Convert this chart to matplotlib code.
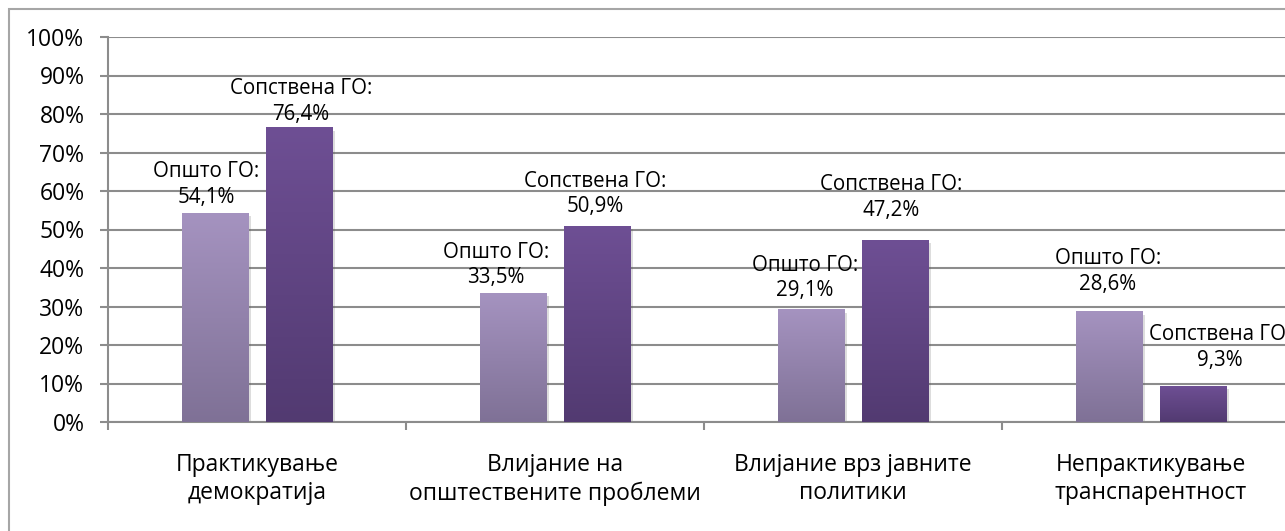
import numpy as np
import matplotlib
matplotlib.use("Agg")
import matplotlib.pyplot as plt
from matplotlib.colors import LinearSegmentedColormap
from matplotlib.patches import Rectangle
import matplotlib.patheffects as pe

plt.rcParams['font.family'] = ['Open Sans', 'DejaVu Sans']

categories = ['Практикување\nдемократија', 'Влијание на\nопштествените проблеми',
              'Влијание врз јавните\nполитики', 'Непрактикување\nтранспарентност']
general_go = [54.1, 33.5, 29.1, 28.6]
own_go = [76.4, 50.9, 47.2, 9.3]
general_name = 'Општо ГО:'
own_name = 'Сопствена ГО:'

# label nudges in pixels (dx, dy of the lower line above bar top)
general_nudge = [(-9, 14), (-17, 13), (-6, 17), (-1, 25)]
own_nudge = [(2, 11), (-2, 17), (-4, 28), (27, 24)]

W, H = 1285, 531
fig = plt.figure(figsize=(W / 100, H / 100), dpi=100)
ax = fig.add_axes([108 / W, (H - 422) / H, (1300 - 108) / W, 385 / H])

# outer chart border
fig.patches.append(Rectangle((9 / W, -0.1), 1.2, (H - 9) / H + 0.1, transform=fig.transFigure,
                             fill=False, edgecolor='#a6a6a6', lw=1.5, zorder=0))

x = np.arange(len(categories))
bw = 0.2215
off = 0.141

light = LinearSegmentedColormap.from_list('light', ['#7f7196', '#a593c0'])
dark = LinearSegmentedColormap.from_list('dark', ['#523a71', '#6e4f94'])
grad = np.linspace(0, 1, 256).reshape(-1, 1)

shadow = [pe.SimplePatchShadow(offset=(2.5, -2), shadow_rgbFace='#555555', alpha=0.2), pe.Normal()]
b1 = ax.bar(x - off, np.array(general_go) / 100, bw, color='#9383ab', zorder=2, path_effects=shadow)
b2 = ax.bar(x + off, np.array(own_go) / 100, bw, color='#5f4583', zorder=2, path_effects=shadow)

for bars, cmap in [(b1, light), (b2, dark)]:
    for r in bars:
        x0, h, w = r.get_x(), r.get_height(), r.get_width()
        ax.imshow(grad, extent=[x0, x0 + w, 0, h], origin='lower', aspect='auto',
                  cmap=cmap, zorder=3, interpolation='bicubic')

ax.set_xlim(-0.5, 3.5)
ax.set_ylim(0, 1)

# data labels
def put_labels(bars, vals, name, nudges):
    for r, v, (dx, dy) in zip(bars, vals, nudges):
        txt = name + '\n' + ('%.1f%%' % v).replace('.', ',')
        ax.annotate(txt, (r.get_x() + r.get_width() / 2, r.get_height()),
                    xytext=(dx * 0.72, (dy + 15) * 0.72), textcoords='offset points',
                    ha='center', va='center', fontsize=14.8, linespacing=1.3,
                    color='#000000', zorder=5, annotation_clip=False)

put_labels(b1, general_go, general_name, general_nudge)
put_labels(b2, own_go, own_name, own_nudge)

# y axis
ax.set_yticks(np.arange(0, 1.01, 0.1))
ax.set_yticklabels(['%d%%' % v for v in range(0, 101, 10)])
ax.yaxis.grid(True, color='#8c8c8c', lw=1.5)
ax.set_axisbelow(True)
ax.tick_params(axis='y', length=6, width=1.5, color='#8c8c8c', pad=11, labelsize=16.5)

# x axis: ticks at boundaries, labels at centers
ax.set_xticks(np.arange(-0.5, 3.6, 1.0))
ax.set_xticklabels([])
ax.set_xticks(x, minor=True)
ax.set_xticklabels(categories, minor=True, linespacing=1.25)
ax.tick_params(axis='x', which='major', length=6, width=1.5, color='#8c8c8c')
ax.tick_params(axis='x', which='minor', length=0, pad=22, labelsize=16.5)

for s in ['top', 'right']:
    ax.spines[s].set_visible(False)
for s in ['left', 'bottom']:
    ax.spines[s].set_color('#8c8c8c')
    ax.spines[s].set_linewidth(1.5)

fig.savefig('out.png', dpi=100)
